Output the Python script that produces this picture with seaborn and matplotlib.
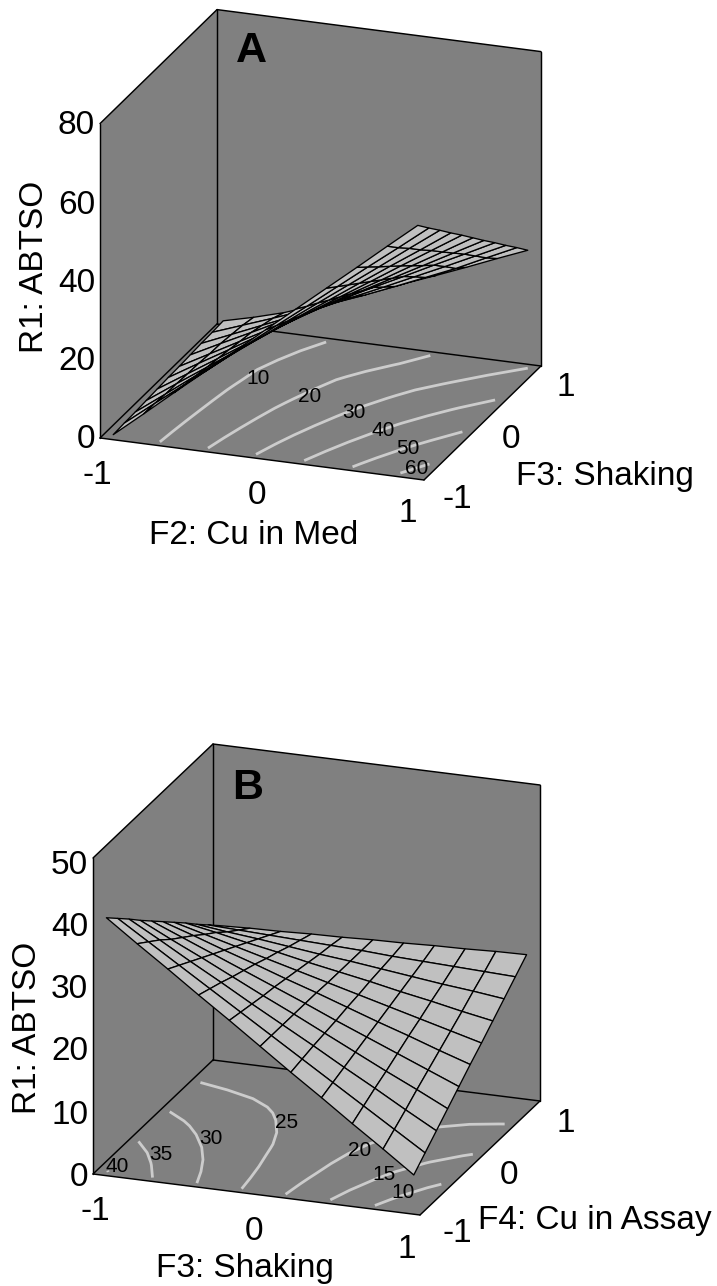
import numpy as np
import seaborn as sns
import matplotlib.pyplot as plt
from matplotlib.transforms import Affine2D

# factor levels of the surface nodes, same for both panels
grid = [-0.94, -0.752, -0.564, -0.376, -0.188, 0.0, 0.188, 0.376, 0.564, 0.752, 0.94]

# response, one row per level of the second factor
z_a = [
    [0.3, 6.6, 13.0, 19.3, 25.6, 32.0, 38.3, 44.6, 50.9, 57.3, 63.6],
    [0.5, 6.5, 12.4, 18.4, 24.4, 30.4, 36.3, 42.3, 48.3, 54.2, 60.2],
    [0.6, 6.2, 11.9, 17.5, 23.1, 28.8, 34.4, 40.0, 45.6, 51.3, 56.9],
    [0.8, 6.1, 11.3, 16.6, 21.9, 27.2, 32.4, 37.7, 43.0, 48.2, 53.5],
    [1.0, 5.9, 10.8, 15.8, 20.7, 25.6, 30.5, 35.4, 40.4, 45.3, 50.2],
    [1.2, 5.8, 10.3, 14.9, 19.4, 24.0, 28.6, 33.1, 37.7, 42.2, 46.8],
    [1.3, 5.5, 9.7, 13.9, 18.1, 22.4, 26.6, 30.8, 35.0, 39.2, 43.4],
    [1.5, 5.4, 9.2, 13.1, 16.9, 20.8, 24.7, 28.5, 32.4, 36.2, 40.1],
    [1.7, 5.0, 8.3, 11.6, 15.0, 18.6, 22.1, 25.7, 29.3, 33.0, 36.7],
    [1.8, 4.6, 7.4, 10.3, 13.3, 16.3, 19.5, 22.8, 26.1, 29.8, 33.4],
    [2.0, 3.9, 6.1, 8.9, 11.8, 14.7, 17.6, 20.6, 23.7, 26.9, 30.0],
]
z_b = [
    [40.2, 36.7, 33.3, 29.8, 26.4, 22.9, 19.4, 16.0, 12.5, 9.1, 5.6],
    [38.4, 35.3, 32.2, 29.1, 26.0, 22.9, 19.8, 16.7, 13.6, 10.5, 7.4],
    [36.6, 33.9, 31.1, 28.4, 25.6, 22.9, 20.2, 17.4, 14.7, 11.9, 9.2],
    [34.7, 32.3, 30.0, 27.6, 25.2, 22.9, 20.5, 18.1, 15.7, 13.4, 11.0],
    [32.9, 30.9, 28.9, 26.9, 24.9, 22.9, 20.8, 18.8, 16.8, 14.8, 12.8],
    [31.1, 29.5, 27.8, 26.2, 24.5, 22.9, 21.2, 19.5, 17.9, 16.2, 14.6],
    [29.3, 28.0, 26.7, 25.4, 24.1, 22.8, 21.5, 20.2, 18.9, 17.6, 16.3],
    [27.5, 26.6, 25.6, 24.7, 23.7, 22.8, 21.9, 20.9, 20.0, 19.0, 18.1],
    [25.6, 25.0, 24.5, 23.9, 23.3, 22.8, 22.2, 21.6, 21.0, 20.5, 19.9],
    [23.8, 23.6, 23.4, 23.2, 23.0, 22.8, 22.5, 22.3, 22.1, 21.9, 21.7],
    [22.0, 22.2, 22.3, 22.5, 22.6, 22.8, 22.9, 23.1, 23.2, 23.4, 23.5],
]
levels_a = [10, 20, 30, 40, 50, 60]
levels_b = [10, 15, 20, 25, 30, 35, 40]
zticks_a = [0, 20, 40, 60, 80]
zticks_b = [0, 10, 20, 30, 40, 50]
factor_ticks = ['-1', '0', '1']

sns.set_theme(style='white')
plt.rcParams['font.family'] = ['Liberation Sans', 'DejaVu Sans']
plt.rcParams['text.color'] = 'black'

GREY = '#808080'
SURF = '#c0c0c0'
CONT = '#cccccc'

fig = plt.figure(figsize=(7.17, 12.86), dpi=100)
ax = fig.add_axes([0, 0, 1, 1])


def draw_panel(o, ex, ey, ez, zmax, z, levels, clabels):
    # the box is an oblique view, so everything goes through this
    def proj(x, y, h=0):
        a = np.asarray(x) + 1
        b = np.asarray(y) + 1
        return o[0] + ex[0] * a + ey[0] * b, o[1] + ex[1] * a + ey[1] * b - ez * np.asarray(h)

    corners = [(-1, -1), (1, -1), (1, 1), (-1, 1)]
    floor = [proj(*c) for c in corners]
    ax.fill(*zip(*floor), color=GREY, lw=0, zorder=1)
    left = [proj(-1, -1), proj(-1, 1), proj(-1, 1, zmax), proj(-1, -1, zmax)]
    back = [proj(-1, 1), proj(1, 1), proj(1, 1, zmax), proj(-1, 1, zmax)]
    ax.fill(*zip(*left), color=GREY, lw=0, zorder=1)
    ax.fill(*zip(*back), color=GREY, lw=0, zorder=1)

    edges = [
        ((-1, -1, 0), (1, -1, 0)), ((1, -1, 0), (1, 1, 0)), ((1, 1, 0), (-1, 1, 0)),
        ((-1, 1, 0), (-1, -1, 0)), ((-1, -1, 0), (-1, -1, zmax)), ((-1, 1, 0), (-1, 1, zmax)),
        ((1, 1, 0), (1, 1, zmax)), ((-1, -1, zmax), (-1, 1, zmax)), ((-1, 1, zmax), (1, 1, zmax)),
    ]
    for p, q in edges:
        p1, p2 = proj(*p), proj(*q)
        sns.lineplot(x=[p1[0], p2[0]], y=[p1[1], p2[1]], sort=False, estimator=None,
                     color='black', lw=1.05, ax=ax, zorder=2, legend=False)

    tr = Affine2D.from_values(ex[0], ex[1], ey[0], ey[1],
                              o[0] + ex[0] + ey[0], o[1] + ex[1] + ey[1]) + ax.transData
    ax.contour(grid, grid, z, levels=levels, colors=CONT, linewidths=2.0, transform=tr, zorder=2.5)
    for lab, (tx, ty) in zip(levels, clabels):
        ax.text(tx, ty + 1, str(lab), fontsize=15, ha='center', va='center', zorder=2.6)

    # painter's order, far cells first
    zz = np.array(z)
    cells = []
    for j in range(10):
        for i in range(10):
            xs = [grid[i], grid[i + 1], grid[i + 1], grid[i]]
            ys = [grid[j], grid[j], grid[j + 1], grid[j + 1]]
            hs = [zz[j, i], zz[j, i + 1], zz[j + 1, i + 1], zz[j + 1, i]]
            cells.append((np.mean(proj(xs, ys)[1]), xs, ys, hs))
    cells.sort(key=lambda c: c[0])
    for n, (_, xs, ys, hs) in enumerate(cells):
        px, py = proj(xs, ys, hs)
        ax.fill(px, py, facecolor=SURF, edgecolor='black', lw=0.95, joinstyle='round', zorder=3 + n * 0.01)


draw_panel((100, 438), (162, 21), (58.5, -57), 3.93, zticks_a[-1], z_a, levels_a,
           [(258, 377), (310, 395), (354, 411), (383, 430), (408, 448), (417, 468)])
draw_panel((93, 1174), (163.5, 20.5), (60, -57), 6.32, zticks_b[-1], z_b, levels_b,
           [(403, 1192), (384, 1173), (360, 1149), (287, 1122), (211, 1137), (161, 1153), (117, 1165)])

FS = 24
for t, y in zip(zticks_a, [439, 362, 283, 205, 126]):
    ax.text(95, y, str(t), fontsize=FS, ha='right', va='center')
for t, y in zip(zticks_b, [1177, 1115, 1051, 990, 928, 866]):
    ax.text(88, y, str(t), fontsize=FS, ha='right', va='center')
for t, xy in zip(factor_ticks, [(97, 475), (257, 495), (408, 514)]):
    ax.text(*xy, t, fontsize=FS, ha='center', va='center')
for t, xy in zip(factor_ticks, [(457, 500), (511, 440), (566, 388)]):
    ax.text(*xy, t, fontsize=FS, ha='center', va='center')
for t, xy in zip(factor_ticks, [(95, 1211), (254, 1231), (407, 1250)]):
    ax.text(*xy, t, fontsize=FS, ha='center', va='center')
for t, xy in zip(factor_ticks, [(457, 1234), (509, 1176), (566, 1123)]):
    ax.text(*xy, t, fontsize=FS, ha='center', va='center')

ax.text(35, 267, 'R1: ABTSO', fontsize=FS, rotation=90, ha='center', va='center')
ax.text(254, 535, 'F2: Cu in Med', fontsize=FS, ha='center', va='center')
ax.text(605, 477, 'F3: Shaking', fontsize=FS, ha='center', va='center')
ax.text(28, 1028, 'R1: ABTSO', fontsize=FS, rotation=90, ha='center', va='center')
ax.text(245, 1269, 'F3: Shaking', fontsize=FS, ha='center', va='center')
ax.text(595, 1220, 'F4: Cu in Assay', fontsize=FS, ha='center', va='center')
ax.text(251, 51, 'A', fontsize=31, fontweight='bold', ha='center', va='center')
ax.text(248, 788, 'B', fontsize=31, fontweight='bold', ha='center', va='center')

ax.set_xlim(0, 717)
ax.set_ylim(1286, 0)
ax.axis('off')
fig.savefig('out.png', dpi=100)
